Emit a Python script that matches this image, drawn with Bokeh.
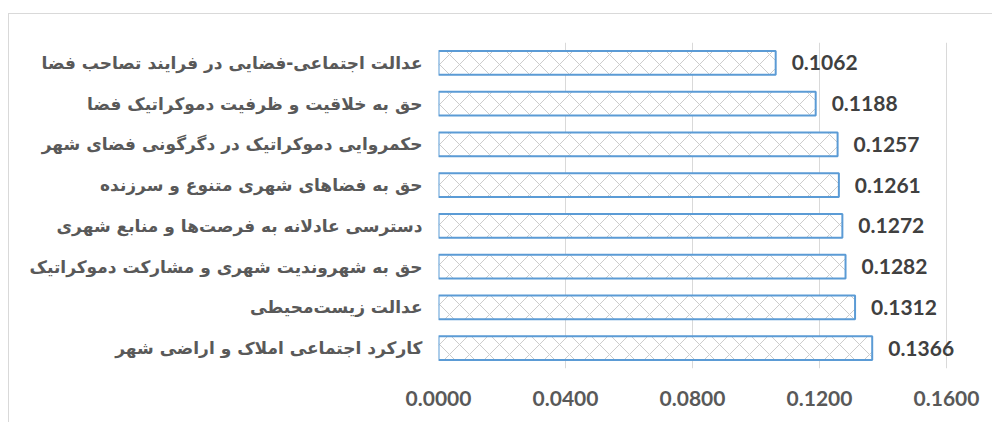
from bokeh.plotting import figure
from bokeh.models import ColumnDataSource, FactorRange, Range1d, FixedTicker, CustomJSTickFormatter
from bokeh.core.properties import value
from bokeh.embed import file_html
from bokeh.resources import INLINE

# categories listed bottom to top
categories = [
    "کارکرد اجتماعی املاک و اراضی شهر",
    "عدالت زیست‌محیطی",
    "حق به شهروندیت شهری و مشارکت دموکراتیک",
    "دسترسی عادلانه به فرصت‌ها و منابع شهری",
    "حق به فضاهای شهری متنوع و سرزنده",
    "حکمروایی دموکراتیک در دگرگونی فضای شهر",
    "حق به خلاقیت و ظرفیت دموکراتیک فضا",
    "عدالت اجتماعی-فضایی در فرایند تصاحب فضا",
]
values = [0.1366, 0.1312, 0.1282, 0.1272, 0.1261, 0.1257, 0.1188, 0.1062]
x_ticks = [0.0, 0.04, 0.08, 0.12, 0.16]

labels = [f"{v:.4f}" for v in values]
src = ColumnDataSource(dict(cat=categories, val=values, lab=labels))

W, H = 984, 409
FL, FT, FB = 429, 28, 55
px_per_unit = 508 / 0.16
x_max = (W - FL) / px_per_unit

p = figure(width=W, height=H, output_backend="svg", toolbar_location=None,
           y_range=FactorRange(factors=categories, range_padding=0),
           x_range=Range1d(0, x_max),
           min_border_left=FL, min_border_right=0, min_border_top=FT, min_border_bottom=FB)

p.hbar(y="cat", right="val", left=0, height=0.58, source=src,
       fill_color="white", line_color="#5b9bd5", line_width=2,
       hatch_pattern="diagonal_cross", hatch_color="#cccccc", hatch_scale=20, hatch_weight=1)

p.text(x="val", y="cat", text="lab", source=src, x_offset=16,
       text_baseline="middle", text_align="left",
       text_font=value("Lato"), text_font_style="bold", text_font_size="21px",
       text_color="#404040")

p.outline_line_color = None
p.ygrid.grid_line_color = None
p.xgrid.grid_line_color = "#d9d9d9"
p.xgrid.grid_line_width = 1

p.xaxis.ticker = FixedTicker(ticks=x_ticks)
p.xaxis.formatter = CustomJSTickFormatter(code="return tick.toFixed(4);")
p.xaxis.axis_line_color = None
p.xaxis.major_tick_line_color = None
p.xaxis.minor_tick_line_color = None
p.xaxis.major_label_standoff = 16
p.xaxis.major_label_text_font = "Lato"
p.xaxis.major_label_text_font_style = "bold"
p.xaxis.major_label_text_font_size = "21px"
p.xaxis.major_label_text_color = "#595959"

p.yaxis.axis_line_color = None
p.yaxis.major_tick_line_color = None
p.yaxis.minor_tick_line_color = None
p.yaxis.major_label_standoff = 10
p.yaxis.major_label_text_font = "DejaVu Sans"
p.yaxis.major_label_text_font_style = "bold"
p.yaxis.major_label_text_font_size = "17px"
p.yaxis.major_label_text_color = "#595959"

p.styles = {"border-left": "1px solid #d9d9d9", "border-top": "1px solid #d9d9d9",
            "margin-left": "8px", "margin-top": "13px"}

open("out.html", "w").write(file_html(p, INLINE))
